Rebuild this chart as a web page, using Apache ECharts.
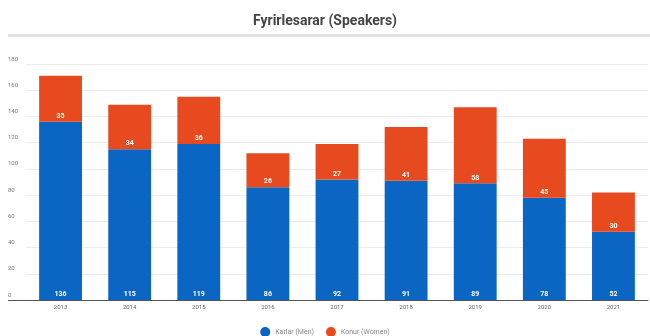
<!DOCTYPE html>
<html>
<head>
<meta charset="utf-8">
<script src="https://cdn.jsdelivr.net/npm/echarts@6/dist/echarts.min.js"></script>
<style>
  html, body { margin: 0; padding: 0; background: #fff; }
  #chart { width: 650px; height: 336px; }
</style>
</head>
<body>
<div id="chart"></div>
<script>
// Speakers per year, split by gender
const years = ['2013', '2014', '2015', '2016', '2017', '2018', '2019', '2020', '2021'];
const men   = [136, 115, 119, 86, 92, 91, 89, 78, 52];
const women = [35, 34, 36, 26, 27, 41, 58, 45, 30];
const seriesNames = ['Karlar (Men)', 'Konur (Women)'];
const yTicks = { min: 0, max: 180, interval: 20 };

const BLUE = '#0a66c2';
const ORANGE = '#e64a1e';
const FONT = 'Roboto, "Noto Sans", sans-serif';

const chart = echarts.init(document.getElementById('chart'), null, { renderer: 'canvas' });

const barLabel = {
  show: true,
  position: 'insideBottom',
  distance: 2,
  color: '#fff',
  fontSize: 7,
  fontWeight: 'bold',
  fontFamily: FONT
};

chart.setOption({
  animation: false,
  backgroundColor: '#fff',
  title: {
    text: 'Fyrirlesarar (Speakers)',
    left: 'center',
    top: 9,
    textStyle: { fontFamily: FONT, fontSize: 14, fontWeight: 'bold', color: '#444' }
  },
  graphic: [
    {
      type: 'rect',
      shape: { x: 8, y: 34, width: 642, height: 3 },
      style: { fill: '#e2e2e2' },
      silent: true
    },
    {
      type: 'line',
      shape: { x1: 8, y1: 300.5, x2: 26, y2: 300.5 },
      style: { stroke: '#555', lineWidth: 1 },
      silent: true
    }
  ],
  legend: {
    data: seriesNames,
    top: 322,
    left: 'center',
    icon: 'circle',
    itemWidth: 10,
    itemHeight: 10,
    itemGap: 12,
    textStyle: { fontFamily: FONT, fontSize: 7, color: '#888' }
  },
  grid: { left: 26, right: 2, top: 64, bottom: 36, containLabel: false },
  xAxis: {
    type: 'category',
    data: years,
    axisLine: { lineStyle: { color: '#555', width: 1 } },
    axisTick: { show: false },
    axisLabel: { fontFamily: FONT, fontSize: 6, color: '#666', margin: 4 }
  },
  yAxis: {
    type: 'value',
    min: yTicks.min,
    max: yTicks.max,
    interval: yTicks.interval,
    axisLine: { show: false },
    axisTick: { show: false },
    axisLabel: {
      fontFamily: FONT, fontSize: 6, color: '#777',
      align: 'left', verticalAlign: 'bottom', margin: 18, padding: [0, 0, 2, 0]
    },
    splitLine: { lineStyle: { color: '#ececec', width: 1 } }
  },
  series: [
    {
      name: seriesNames[0],
      type: 'bar',
      stack: 'total',
      data: men,
      barCategoryGap: '38%',
      itemStyle: { color: BLUE },
      label: barLabel
    },
    {
      name: seriesNames[1],
      type: 'bar',
      stack: 'total',
      data: women,
      barCategoryGap: '38%',
      itemStyle: { color: ORANGE },
      label: barLabel
    }
  ]
});
</script>
</body>
</html>
